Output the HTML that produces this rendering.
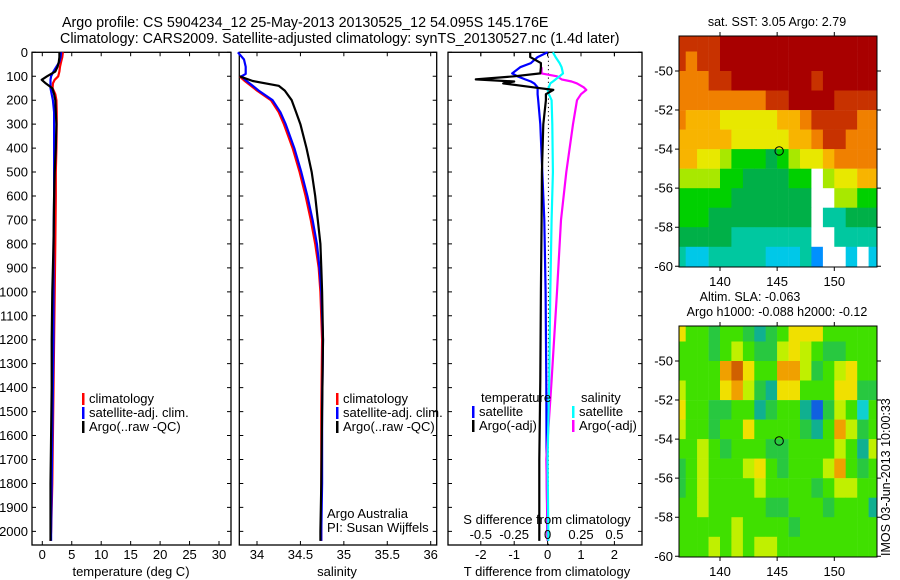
<!DOCTYPE html>
<html><head><meta charset="utf-8">
<style>
html,body{margin:0;padding:0;background:#fff;}
svg{display:block;font-family:"Liberation Sans",Arial,sans-serif;}
</style></head>
<body>
<svg id="fig" width="900" height="580" viewBox="0 0 900 580" xmlns="http://www.w3.org/2000/svg">
<rect width="900" height="580" fill="#fff"/>
<text x="62" y="27" font-size="14.3" text-anchor="start">Argo profile: CS 5904234_12 25-May-2013 20130525_12 54.095S 145.176E</text>
<text x="60" y="43" font-size="14.3" text-anchor="start">Climatology: CARS2009. Satellite-adjusted climatology: synTS_20130527.nc (1.4d later)</text>
<g id="g"></g>
</svg>
<script>
// ---- data ----
const depthT = [0,20,40,60,80,100,115,130,150,175,200,250,300,400,500,600,800,1000,1200,1400,1600,1800,2000,2040];
const tempClim = [3.5,3.4,3.2,3.0,2.9,2.7,2.1,1.8,1.75,2.2,2.4,2.45,2.45,2.4,2.3,2.3,2.2,2.1,2.0,1.9,1.8,1.7,1.5,1.4];
const tempSat  = [3.2,3.1,2.9,2.4,1.9,1.5,1.4,1.4,1.4,1.6,1.8,2.0,2.0,2.0,2.0,2.0,1.9,1.9,1.9,1.8,1.7,1.6,1.5,1.5];
const tempArgo = [2.9,2.9,2.8,2.6,2.2,0.8,-0.1,0.6,1.7,2.0,2.2,2.3,2.4,2.3,2.1,2.0,1.9,1.7,1.6,1.6,1.5,1.4,1.4,1.4];
const depthS = [0,30,60,90,100,120,140,160,200,250,300,400,500,600,700,800,900,1000,1200,1500,1800,2000,2040];
const salClim = [NaN,NaN,NaN,NaN,33.8,33.86,33.93,34.0,34.16,34.25,34.31,34.41,34.49,34.56,34.62,34.67,34.71,34.73,34.75,34.74,34.74,34.74,34.74];
const salSat  = [33.78,33.85,33.87,33.87,33.82,33.88,33.95,34.02,34.18,34.27,34.33,34.43,34.51,34.58,34.64,34.69,34.72,34.74,34.76,34.75,34.75,34.74,34.74];
const salArgo = [NaN,NaN,NaN,NaN,33.8,33.95,34.25,34.32,34.4,34.45,34.5,34.57,34.63,34.67,34.7,34.73,34.74,34.75,34.76,34.75,34.74,34.73,34.73];
const depthD = [0,20,45,62,88,100,113,122,130,146,157,175,200,300,500,700,1000,1370,1700,2000,2040];
const dTsat  = [0,-0.3,-0.5,-0.82,-1.06,-0.9,-0.67,-0.5,-0.4,-0.3,-0.3,-0.3,-0.28,-0.22,-0.16,-0.1,-0.06,-0.04,-0.03,-0.01,0];
const dTargo = [-0.52,-0.52,-0.2,-0.2,-0.22,-1.0,-2.15,-1.0,-1.33,-0.43,0.17,-0.05,-0.05,-0.13,-0.17,-0.18,-0.2,-0.22,-0.25,-0.25,-0.25];
const dSsat  = [0.04,0.06,0.09,0.105,0.115,0.09,0.06,0.04,0.02,0.01,0.0,0.01,0.03,0.035,0.04,0.03,0.02,0.012,0.0,0.005,0.005];
const dSargo = [NaN,NaN,NaN,-0.045,-0.045,0.07,0.105,0.18,0.22,0.27,0.29,0.25,0.22,0.19,0.14,0.1,0.07,0.03,-0.01,0.0,0.0];
const depthTicks = [0,100,200,300,400,500,600,700,800,900,1000,1100,1200,1300,1400,1500,1600,1700,1800,1900,2000];
const tempTicks = [0,5,10,15,20,25,30];
const salTicks = [34,34.5,35,35.5,36];
const salTickLabels = ["34","34.5","35","35.5","36"];
const dTTicks = [-2,-1,0,1,2];
const dSTicks = [-0.5,-0.25,0,0.25,0.5];
const dSTickLabels = ["-0.5","-0.25","0","0.25","0.5"];
// SST map rows (lat -48 to -60, 1 deg), cols lon 136..153
const sstRows = [
"888899999999999999",
"878899999999999999",
"777889999999899999",
"777777778899998888",
"766655555667888877",
"666665555566788777",
"665543332345567777",
"444433222233w45566",
"333332222222ww4433",
"333222222222w11222",
"222221111111ww1111",
"100111110001bww0w0"];
const slaRows = [
"644344323466644444",
"444345433565433444",
"444478644775345644",
"544467532664446633",
"644334423442035414",
"544344644443247534",
"445434443344445425",
"345444564344457434",
"345444454444345544",
"445444443344434442",
"444445444434444444",
"444545455444444444"];
const lonTicks = [140,145,150];
const latTicks = [-50,-52,-54,-56,-58,-60];
const argoLon = 145.176, argoLat = -54.095;

// ---- drawing ----
const NS="http://www.w3.org/2000/svg";
const G=document.getElementById('g');
function el(tag,attrs,parent){const e=document.createElementNS(NS,tag);for(const k in attrs)e.setAttribute(k,attrs[k]);(parent||G).appendChild(e);return e;}
const yTop=52.3, yBot=545, dMax=2057;
const yD = d => yTop + d*(yBot-yTop)/dMax;
function lin(d0,d1,p0,p1){return v=>p0+(v-d0)*(p1-p0)/(d1-d0);}

function panel(name,x0,x1){
  const r=el('rect',{x:x0,y:yTop,width:x1-x0,height:yBot-yTop,fill:'none',stroke:'#000','stroke-width':1.3});
  
  
  depthTicks.forEach(d=>{
    const t=el('path',{d:`M${x0} ${yD(d)}h4M${x1} ${yD(d)}h-4`,stroke:'#000','stroke-width':1});
    
    
  });
}
function series(name,depths,vals,xf,color){
  let d='',pen=false;
  depths.forEach((dp,i)=>{const v=vals[i]; if(isNaN(v)){pen=false;return;}
    d+=(pen?'L':'M')+xf(v).toFixed(1)+' '+yD(dp).toFixed(1); pen=true;});
  const p=el('path',{d:d,fill:'none',stroke:color,'stroke-width':2.2,'stroke-linejoin':'round'});
  
  
}
function txt(name,x,y,s,size,anchor,extra){
  const t=el('text',Object.assign({x:x,y:y,'font-size':size||12,'text-anchor':anchor||'start'},extra||{}));
  t.textContent=s;
  
  
  return t;
}
function xticks(name,xf,ticks,labels,yAxis,labY){
  ticks.forEach((v,i)=>{
    const x=xf(v);
    const t=el('path',{d:`M${x} ${yTop}v4M${x} ${yBot}v-4`,stroke:'#000','stroke-width':1});
    
    
    txt(name+'-tick-label',x,labY,labels?labels[i]:String(v),13,'middle');
  });
}
function legendEntry(name,x,y,color,label){
  const b=el('rect',{x:x,y:y-10,width:2.5,height:12,fill:color});
  
  
  txt(name,x+7,y,label,13);
}

// panel 1 temperature
const xT=lin(0,30,42.3,219);
panel('temperature-panel',32,231);
depthTicks.forEach(d=>txt('depth-tick-label',28,yD(d)+4.5,String(d),13,'end'));
xticks('temperature-axis',xT,tempTicks,null,yBot,559);
txt('temperature-axis-title',131,576,'temperature (deg C)',13,'middle');
series('temperature-climatology',depthT,tempClim,xT,'#ff0000');
series('temperature-satellite-adj',depthT,tempSat,xT,'#0000ff');
series('temperature-argo',depthT,tempArgo,xT,'#000000');
legendEntry('legend-climatology',82,403,'#ff0000','climatology');
legendEntry('legend-satellite-adj',82,417,'#0000ff','satellite-adj. clim.');
legendEntry('legend-argo',82,431,'#000000','Argo(..raw -QC)');

// panel 2 salinity
const xS=lin(34,36,257,430.7);
panel('salinity-panel',239.3,436.7);
xticks('salinity-axis',xS,salTicks,salTickLabels,yBot,559);
txt('salinity-axis-title',337,576,'salinity',13,'middle');
series('salinity-climatology',depthS,salClim,xS,'#ff0000');
series('salinity-satellite-adj',depthS,salSat,xS,'#0000ff');
series('salinity-argo',depthS,salArgo,xS,'#000000');
legendEntry('salinity-legend-climatology',336,403,'#ff0000','climatology');
legendEntry('salinity-legend-satellite-adj',336,417,'#0000ff','satellite-adj. clim.');
legendEntry('salinity-legend-argo',336,431,'#000000','Argo(..raw -QC)');
txt('credit-argo-australia',327,518,'Argo Australia',13);
txt('credit-pi',327,532,'PI: Susan Wijffels',13);

// panel 3 differences
const xDT=lin(0,1,547.6,581);
const xDS=lin(0,0.25,547.6,581);
panel('difference-panel',448,642);
xticks('t-difference-axis',xDT,dTTicks,null,yBot,559);
dSTicks.forEach((v,i)=>{
  const t=el('path',{d:`M${xDS(v)} ${yTop}v4`,stroke:'#000','stroke-width':1});
  
  
});
txt('t-difference-axis-title',547,576,'T difference from climatology',13,'middle');
const zl=el('line',{x1:xDT(0)+0.8,x2:xDT(0)+0.8,y1:yTop,y2:yBot,stroke:'#000','stroke-width':1,'stroke-dasharray':'1.2 3'});


series('t-diff-satellite',depthD,dTsat,xDT,'#0000ff');
series('s-diff-argo',depthD,dSargo,xDS,'#ff00ff');
series('s-diff-satellite',depthD,dSsat,xDS,'#00ffff');
series('t-diff-argo',depthD,dTargo,xDT,'#000000');
txt('legend-temperature-heading',481,402,'temperature',13);
legendEntry('legend-t-satellite',472,416,'#0000ff','satellite');
legendEntry('legend-t-argo',472,430,'#000000','Argo(-adj)');
txt('legend-salinity-heading',581,402,'salinity',13);
legendEntry('legend-s-satellite',572,416,'#00ffff','satellite');
legendEntry('legend-s-argo',572,430,'#ff00ff','Argo(-adj)');
txt('s-difference-axis-title',547,524,'S difference from climatology',13,'middle');
dSTicks.forEach((v,i)=>txt('s-difference-tick-label',xDS(v),539,dSTickLabels[i],13,'middle'));

// maps
const mx0=679, mx1=877;
const xLon=lin(140,150,720,834.3);
const sstColors={'9':'#a80000','8':'#c83200','7':'#f08000','6':'#f8b400','5':'#e8e800','4':'#a8e800','3':'#00d000','2':'#00b048','1':'#00c8a0','0':'#00c8e8','b':'#0090ff','w':'#ffffff'};
const slaColors={'8':'#d06000','7':'#f0a000','6':'#f0e000','5':'#c0f000','4':'#40e000','3':'#28c840','2':'#10b090','1':'#10d0d0','0':'#1060e0'};
function map(name,top,rows,colors){
  const yLat=lin(-50,-60,top+35,top+230.3);
  const bot=top+231, mtop=top;
  const clipId=name+'-clip';
  const cp=el('clipPath',{id:clipId});
  el('rect',{x:mx0,y:mtop,width:mx1-mx0,height:bot-mtop},cp);
  const g=el('g',{'clip-path':`url(#${clipId})`});
  
  
  rows.forEach((row,r)=>{
    for(let c=0;c<row.length;c++){
      const lon=136+c, lat=-48-r;
      const x=xLon(lon), y=yLat(lat);
      const cell=el('rect',{x:x.toFixed(1),y:y.toFixed(1),width:(xLon(lon+1)-x+0.3).toFixed(1),height:(yLat(lat-1)-y+0.3).toFixed(1),fill:colors[row[c]]},g);
      
      
    }
  });
  const fr=el('rect',{x:mx0,y:mtop,width:mx1-mx0,height:bot-mtop,fill:'none',stroke:'#000','stroke-width':1});
  
  
  lonTicks.forEach(v=>{
    const t=el('path',{d:`M${xLon(v)} ${mtop}v-4M${xLon(v)} ${bot}v4`,stroke:'#000','stroke-width':1});
    
    
    txt(name+'-lon-label',xLon(v),bot+19,String(v),13,'middle');
  });
  latTicks.forEach(v=>{
    const t=el('path',{d:`M${mx0} ${yLat(v)}h-4M${mx1} ${yLat(v)}h4`,stroke:'#000','stroke-width':1});
    
    
    txt(name+'-lat-label',673,yLat(v)+4.5,String(v),13,'end');
  });
  const m=el('circle',{cx:xLon(argoLon),cy:yLat(argoLat),r:4.2,fill:'none',stroke:'#000','stroke-width':1});
  
  
}
map('sst-map',36,sstRows,sstColors);
txt('sst-map-title',777,26,'sat. SST: 3.05 Argo: 2.79',12.5,'middle');
map('sla-map',326,slaRows,slaColors);
txt('sla-map-title-1',750,301,'Altim. SLA: -0.063',12.5,'middle');
txt('sla-map-title-2',777,316,'Argo h1000: -0.088 h2000: -0.12',12.5,'middle');
txt('imos-timestamp',0,0,'IMOS 03-Jun-2013 10:00:33',12.5,'start',{transform:'translate(890 556) rotate(-90)'});
</script>
</body></html>
